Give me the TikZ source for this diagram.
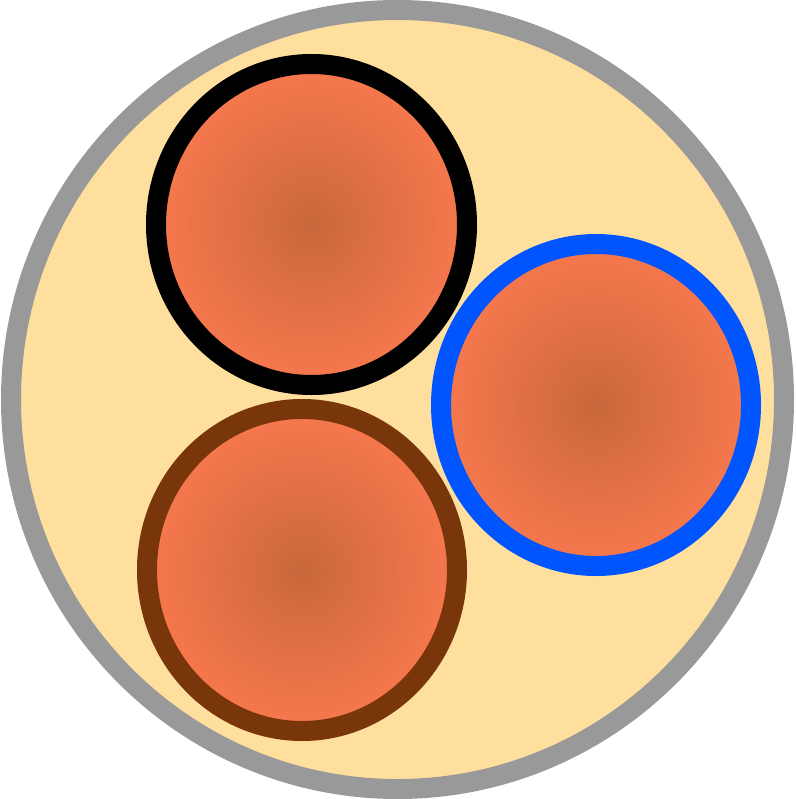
\documentclass[tikz,border=0pt]{standalone}
\begin{document}
\begin{tikzpicture}[x=1pt,y=-1pt]
\definecolor{ringgray}{HTML}{999999}
\definecolor{cream}{HTML}{FEDF9E}
\definecolor{ballin}{HTML}{C8683A}
\definecolor{ballout}{HTML}{F8784E}
\definecolor{brownring}{HTML}{78360A}
\definecolor{bluering}{HTML}{0055FF}
\tikzset{
  outer/.style={draw=ringgray,fill=cream,line width=20pt},
  ball/.style={inner color=ballin,outer color=ballout},
  ring/.style={line width=20pt}
}
\useasboundingbox (0,0) rectangle (795,799);
\draw[outer] (397.5,399.5) ellipse [x radius=386.5, y radius=389.5];
% black
\shade[ball] (311.5,224.5) ellipse [x radius=156, y radius=161];
\draw[ring,draw=black] (311.5,224.5) ellipse [x radius=155.5, y radius=160.5];
% brown
\shade[ball] (302,570) ellipse [x radius=156, y radius=161];
\draw[ring,draw=brownring] (302,570) ellipse [x radius=155, y radius=161];
% blue
\shade[ball] (596,405) ellipse [x radius=156, y radius=161];
\draw[ring,draw=bluering] (596,405) ellipse [x radius=155, y radius=161];
\end{tikzpicture}
\end{document}
